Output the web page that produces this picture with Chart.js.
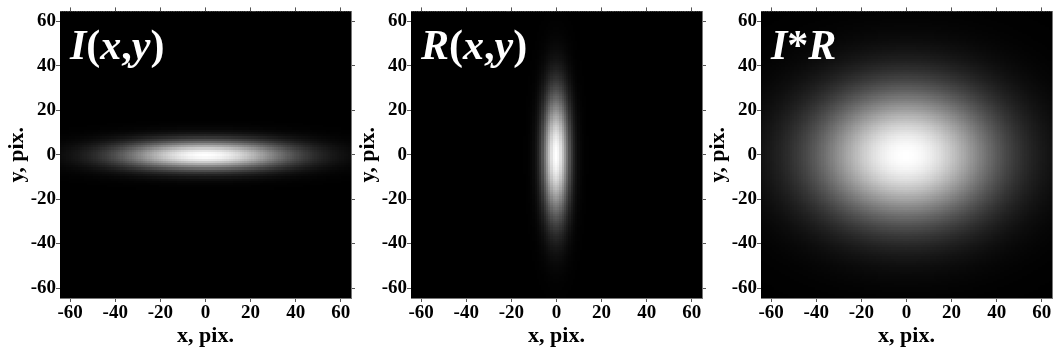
<!DOCTYPE html>
<html>
<head>
<meta charset="utf-8">
<script src="https://cdn.jsdelivr.net/npm/chart.js@4.4.1/dist/chart.umd.min.js"></script>
<style>
    body { margin: 0; background: #fff; width: 1053px; height: 352px; position: relative; overflow: hidden; }
    .panel { position: absolute; top: 0; width: 356px; height: 352px; }
</style>
</head>
<body>
<div class="panel" style="left:0px"><canvas id="c0" width="356" height="352"></canvas></div>
<div class="panel" style="left:351px"><canvas id="c1" width="356" height="352"></canvas></div>
<div class="panel" style="left:701px"><canvas id="c2" width="356" height="352"></canvas></div>
<script>
// panel titles and gaussian widths (in pix.)
const panelTitles = ['I(x,y)', 'R(x,y)', 'I*R'];
const sigmaX = [26, 4, 28];
const sigmaY = [4.5, 19, 21];
const gridMin = -64;
const gridMax = 64;
const tickValues = [-60, -40, -20, 0, 20, 40, 60];
const xTitle = 'x, pix.';
const yTitle = 'y, pix.';

const serif = '"Liberation Serif", "Times New Roman", serif';

function buildCells(sx, sy) {
    let cells = [];
    for (let y = gridMin; y <= gridMax; y++) {
        for (let x = gridMin; x <= gridMax; x++) {
            let v = Math.exp(-(x * x) / (2 * sx * sx) - (y * y) / (2 * sy * sy));
            cells.push({x: x, y: y, v: v});
        }
    }
    return cells;
}

// draws every cell through the chart scales, then the white label
const heatPlugin = {
    id: 'heat',
    beforeDatasetsDraw(chart) {
        const {ctx, chartArea} = chart;
        const xs = chart.scales.x, ys = chart.scales.y;
        ctx.save();
        ctx.beginPath();
        ctx.rect(chartArea.left, chartArea.top, chartArea.width, chartArea.height);
        ctx.clip();
        chart.data.datasets[0].data.forEach(p => {
            const x0 = Math.floor(xs.getPixelForValue(p.x - 0.5));
            const x1 = Math.ceil(xs.getPixelForValue(p.x + 0.5));
            const y0 = Math.floor(ys.getPixelForValue(p.y + 0.5));
            const y1 = Math.ceil(ys.getPixelForValue(p.y - 0.5));
            const g = Math.round(255 * p.v);
            ctx.fillStyle = 'rgb(' + g + ',' + g + ',' + g + ')';
            ctx.fillRect(x0, y0, x1 - x0, y1 - y0);
        });
        ctx.restore();
    },
    afterDraw(chart) {
        const {ctx, chartArea} = chart;
        const text = chart.options.plugins.heat.label;
        let x = chartArea.left + 10;
        const y = chartArea.top + 48;
        ctx.save();
        ctx.fillStyle = '#fff';
        ctx.textBaseline = 'alphabetic';
        for (const ch of text) {
            // letters italic, brackets and signs upright
            ctx.font = (/[A-Za-z]/.test(ch) ? 'italic ' : '') + 'bold 42px ' + serif;
            ctx.fillText(ch, x, y);
            x += ctx.measureText(ch).width;
        }
        ctx.restore();
    }
};

function setTicks(scale) {
    scale.ticks = tickValues.map(v => ({value: v}));
}

function makePanel(i) {
    const tickFont = {family: serif, size: 19, weight: 'bold'};
    const titleFont = {family: serif, size: 22, weight: 'bold'};
    const grid = {drawOnChartArea: false, tickLength: 4, color: '#555'};
    const border = {color: '#777'};
    new Chart(document.getElementById('c' + i), {
        type: 'scatter',
        data: {
            datasets: [{
                data: buildCells(sigmaX[i], sigmaY[i]),
                pointRadius: 0,
                pointHoverRadius: 0
            }]
        },
        options: {
            responsive: false,
            animation: false,
            devicePixelRatio: 1,
            events: [],
            layout: {padding: 0},
            plugins: {
                legend: {display: false},
                tooltip: {enabled: false},
                heat: {label: panelTitles[i]}
            },
            scales: {
                x: {
                    type: 'linear', position: 'bottom', min: gridMin - 0.5, max: gridMax + 0.5,
                    afterBuildTicks: setTicks,
                    afterFit: s => { s.height = 54; },
                    ticks: {font: tickFont, color: '#000', padding: 0, maxRotation: 0},
                    grid: grid, border: border,
                    title: {display: true, text: xTitle, font: titleFont, color: '#000', padding: {top: 0, bottom: 2}}
                },
                y: {
                    type: 'linear', position: 'left', min: gridMin - 0.5, max: gridMax + 0.5,
                    afterBuildTicks: setTicks,
                    afterFit: s => { s.width = 60; },
                    ticks: {font: tickFont, color: '#000', padding: 0},
                    grid: grid, border: border,
                    title: {display: true, text: yTitle, font: titleFont, color: '#000', padding: {top: 4, bottom: 0}}
                },
                x2: {
                    type: 'linear', axis: 'x', position: 'top', min: gridMin - 0.5, max: gridMax + 0.5,
                    afterBuildTicks: setTicks,
                    afterFit: s => { s.height = 9; },
                    ticks: {display: false},
                    grid: grid, border: border
                },
                y2: {
                    type: 'linear', axis: 'y', position: 'right', min: gridMin - 0.5, max: gridMax + 0.5,
                    afterBuildTicks: setTicks,
                    afterFit: s => { s.width = 5; },
                    ticks: {display: false},
                    grid: grid, border: border
                }
            }
        },
        plugins: [heatPlugin]
    });
}

[0, 1, 2].forEach(makePanel);
</script>
</body>
</html>
